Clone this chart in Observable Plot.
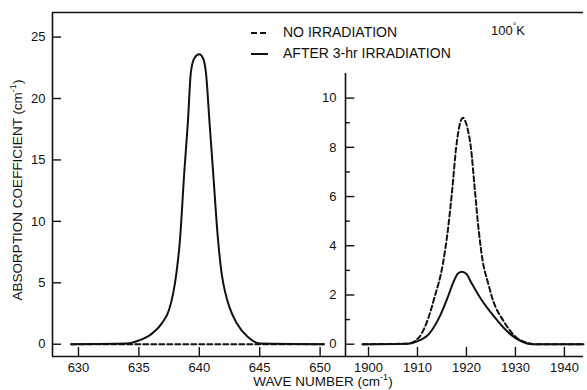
<!DOCTYPE html>
<html><head><meta charset="utf-8">
<script src="https://cdn.jsdelivr.net/npm/d3@7"></script>
<script src="https://cdn.jsdelivr.net/npm/@observablehq/plot@0.6"></script>
<style>
body{margin:0;background:#fff;}
#chart{position:relative;width:587px;height:390px;font-family:"Liberation Sans",Arial,sans-serif;color:#111;overflow:hidden;}
#chart svg{position:absolute;top:0;overflow:visible;}
.lbl{position:absolute;white-space:nowrap;font-size:13.5px;line-height:1;}
.lbl sup{font-size:9px;vertical-align:top;position:relative;top:-2px;}
.sw{position:absolute;height:2px;background:#111;}
</style></head><body><div id="chart"></div>
<script>
// ---- Left panel (around 640 cm^-1) ----
const leftXTicks = [630, 635, 640, 645, 650];
const leftYTicks = [0, 5, 10, 15, 20, 25];
const leftWaveNo = [629.4, 650.3];
const leftAbsNo = [0, 0];
const leftWaveAfter = [629.4, 634, 635, 636, 636.9, 637.5, 637.85, 638.1, 638.4, 638.75, 639.05, 639.3, 639.6, 640, 640.3, 640.55, 640.85, 641.15, 641.55, 641.85, 642.15, 642.5, 643.1, 644, 645, 650.3];
const leftAbsAfter  = [0, 0.05, 0.3, 0.8, 1.7, 2.8, 4.2, 5.75, 8.5, 13.9, 18.0, 22.1, 23.3, 23.6, 23.3, 22.1, 18.0, 13.9, 8.5, 5.75, 4.2, 3.0, 1.7, 0.6, 0.05, 0];

// ---- Right panel (around 1920 cm^-1) ----
const rightXTicks = [1900, 1910, 1920, 1930, 1940];
const rightYTicks = [0, 2, 4, 6, 8, 10];
const rightYMinor = [1, 3, 5, 7, 9];
const rightWaveNo = [1898.8, 1908, 1910.4, 1911.8, 1913.5, 1915.2, 1916.2, 1917.1, 1917.9, 1918.4, 1918.8, 1919.3, 1919.8, 1920.3, 1920.9, 1921.7, 1922.5, 1923.3, 1924.4, 1925.2, 1927.9, 1930, 1932.5, 1934, 1943.9];
const rightAbsNo  = [0, 0.02, 0.3, 0.84, 1.92, 3.28, 4.63, 6.3, 8.0, 8.7, 9.05, 9.2, 9.05, 8.7, 8.0, 6.3, 4.63, 3.4, 2.5, 1.92, 0.84, 0.3, 0.05, 0, 0];
const rightWaveAfter = [1898.8, 1908, 1909.7, 1912.4, 1914.5, 1916.2, 1917.5, 1918.3, 1919.1, 1920, 1921, 1922.7, 1925.7, 1928.8, 1931.4, 1933.5, 1943.9];
const rightAbsAfter  = [0, 0.02, 0.1, 0.43, 1.11, 1.92, 2.6, 2.88, 2.94, 2.85, 2.5, 1.92, 1.11, 0.43, 0.1, 0, 0];

const pts = (xs, ys) => xs.map((x, i) => ({x, y: ys[i]}));
const font = '"Liberation Sans", Arial, sans-serif';
const ink = "#111";
const fmt = d => String(d);

const lxDom = [627.85, 652.1], lyDom = [-1, 27];
const left = Plot.plot({
  width: 345, height: 390, marginLeft: 52, marginRight: 0, marginTop: 12, marginBottom: 34,
  style: {background: "transparent", fontFamily: font, fontSize: "13px", color: ink},
  x: {domain: lxDom, ticks: leftXTicks, tickFormat: fmt, tickSize: 0, tickPadding: 6, label: null},
  y: {domain: lyDom, ticks: leftYTicks, tickFormat: fmt, tickSize: 0, tickPadding: 7, label: null},
  marks: [
    Plot.ruleY([lyDom[0]], {stroke: ink, strokeWidth: 1.6}),
    Plot.ruleY([lyDom[1]], {stroke: ink, strokeWidth: 1.6}),
    Plot.ruleX([lxDom[0]], {stroke: ink, strokeWidth: 1.6}),
    Plot.ruleY(leftYTicks, {x1: lxDom[0], x2: lxDom[0] + 0.75, stroke: ink, strokeWidth: 1.4}),
    Plot.ruleX(leftXTicks, {y1: lyDom[0], y2: lyDom[0] + 0.73, stroke: ink, strokeWidth: 1.4}),
    Plot.line(pts(leftWaveAfter, leftAbsAfter), {x: "x", y: "y", stroke: ink, strokeWidth: 2, curve: "monotone-x"}),
    Plot.line(pts(leftWaveNo, leftAbsNo), {x: "x", y: "y", stroke: ink, strokeWidth: 2, strokeDasharray: "5,3"})
  ]
});
left.style.left = "0px";

const rxDom = [1895.3, 1943.9], ryDom = [-0.5, 13.48];
const right = Plot.plot({
  width: 287, height: 390, marginLeft: 45, marginRight: 4, marginTop: 12, marginBottom: 34,
  style: {background: "transparent", fontFamily: font, fontSize: "13px", color: ink},
  x: {domain: rxDom, ticks: rightXTicks, tickFormat: fmt, tickSize: 0, tickPadding: 6, label: null},
  y: {domain: ryDom, ticks: rightYTicks, tickFormat: fmt, tickSize: 0, tickPadding: 9, label: null},
  marks: [
    Plot.ruleY([ryDom[0]], {stroke: ink, strokeWidth: 1.6}),
    Plot.ruleY([ryDom[1]], {stroke: ink, strokeWidth: 1.6}),
    Plot.ruleX([rxDom[0]], {y1: ryDom[0], y2: 11, stroke: ink, strokeWidth: 1.6}),
    Plot.ruleY(rightYTicks, {x1: rxDom[0], x2: rxDom[0] + 1.9, stroke: ink, strokeWidth: 1.4}),
    Plot.ruleY(rightYMinor, {x1: rxDom[0], x2: rxDom[0] + 1.0, stroke: ink, strokeWidth: 1.4}),
    Plot.ruleX(rightXTicks, {y1: ryDom[0], y2: ryDom[0] + 0.37, stroke: ink, strokeWidth: 1.4}),
    Plot.line(pts(rightWaveAfter, rightAbsAfter), {x: "x", y: "y", stroke: ink, strokeWidth: 2, curve: "monotone-x"}),
    Plot.line(pts(rightWaveNo, rightAbsNo), {x: "x", y: "y", stroke: ink, strokeWidth: 2, strokeDasharray: "5,3", curve: "monotone-x"})
  ]
});
right.style.left = "300px";

const chart = document.getElementById("chart");
chart.append(left, right);

function label(html, css) {
  const d = document.createElement("div");
  d.className = "lbl";
  d.innerHTML = html;
  Object.assign(d.style, css);
  chart.append(d);
  return d;
}
function swatch(x, y, w) {
  const s = document.createElement("div");
  s.className = "sw";
  Object.assign(s.style, {left: x + "px", top: y + "px", width: w + "px"});
  chart.append(s);
}
label("ABSORPTION COEFFICIENT (cm<sup>-1</sup>)", {left: "18px", top: "190px", transform: "translate(-50%,-50%) rotate(-90deg)"});
label("WAVE NUMBER (cm<sup>-1</sup>)", {left: "323px", top: "382px", transform: "translate(-50%,-50%)"});
swatch(251, 32, 6); swatch(260, 32, 6);
label("NO IRRADIATION", {left: "283px", top: "32px", transform: "translateY(-50%)", fontSize: "14px"});
swatch(251, 53, 17);
label("AFTER 3-hr IRRADIATION", {left: "283px", top: "53px", transform: "translateY(-50%)", fontSize: "14px"});
label("100<sup>°</sup>K", {left: "491px", top: "30px", transform: "translateY(-50%)", fontSize: "13px"});
</script>
</body></html>
